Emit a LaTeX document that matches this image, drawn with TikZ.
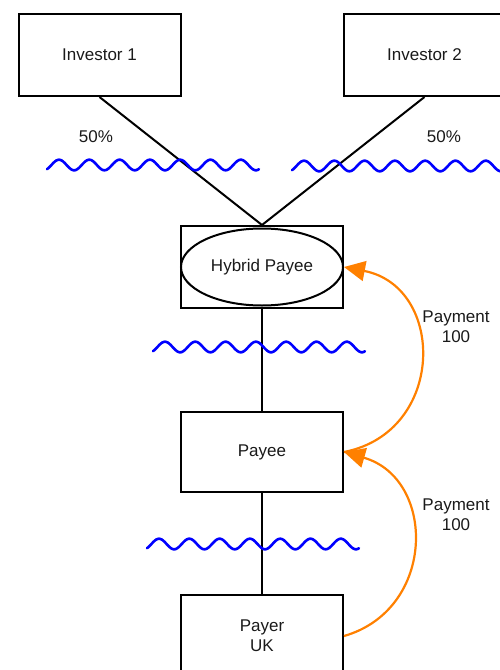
\documentclass[tikz,border=0pt]{standalone}
\usepackage{fontspec}
\setmainfont{Liberation Sans}
\usetikzlibrary{shapes.geometric,arrows.meta}
\definecolor{txt}{HTML}{1A1A1A}
\definecolor{payorange}{HTML}{FF8000}
\newcommand{\wavyline}[2]{%
  \draw[wave] plot[domain=0:212, samples=160, smooth] ({#1+\x}, {-#2+5.3*cos(11.881*(\x-12))});}
\begin{document}
\begin{tikzpicture}[x=1pt,y=1pt,
  font=\fontsize{17}{20}\selectfont, text=txt,
  box/.style={draw=black, line width=2pt, rectangle, minimum width=162pt, minimum height=82pt, align=center, inner sep=0pt},
  ell/.style={draw=black, line width=2pt, ellipse, minimum width=162pt, minimum height=77pt, inner sep=0pt},
  link/.style={draw=black, line width=2pt},
  wave/.style={draw=blue, line width=2.6pt, line cap=round},
  pay/.style={draw=payorange, line width=2.2pt, -{Triangle[length=21pt, width=20pt]}},
  lbl/.style={align=center, inner sep=0pt}]
\useasboundingbox (0,0) rectangle (500,-670);
\begin{scope}
\clip (0,0) rectangle (500,-670);
\node[box] (inv1) at (99.5,-55) {Investor 1};
\node[box] (inv2) at (424.5,-55) {Investor 2};
\node[box] (hybbox) at (262,-267) {};
\node[ell] (hyb) at (262,-267) {Hybrid Payee};
\node[box, minimum height=80pt] (payee) at (262,-452) {Payee};
\node[box] (payer) at (262,-636) {Payer\\UK};

\draw[link] (inv1.south) -- (hybbox.north);
\draw[link] (inv2.south) -- (hybbox.north);
\draw[link] (hybbox.south) -- (payee.north);
\draw[link] (payee.south) -- (payer.north);

\wavyline{47}{165}
\wavyline{292}{166}
\wavyline{153}{347}
\wavyline{147}{544}

\node[lbl] (p1) at (96,-137) {50\%};
\node[lbl] (p2) at (444,-137) {50\%};
\node[lbl] (pay1) at (456,-327) {Payment\\100};
\node[lbl] (pay2) at (456,-515) {Payment\\100};

\draw[pay] (payee.east) to[out=11, in=-11, looseness=1.44] (hyb.east);
\draw[pay] (payer.east) to[out=16, in=-16, looseness=1.34] (payee.east);
\end{scope}
\end{tikzpicture}
\end{document}
